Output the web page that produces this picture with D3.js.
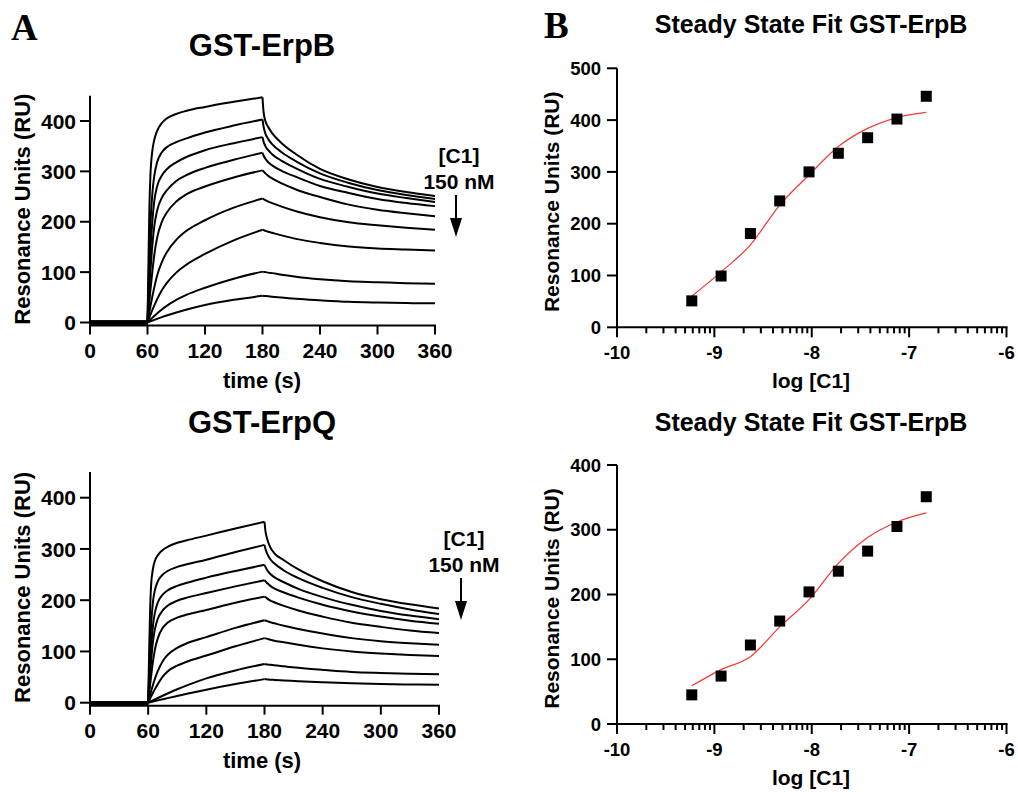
<!DOCTYPE html>
<html lang="en">
<head>
<meta charset="UTF-8">
<title>C1 binding - SPR</title>
<script src="https://cdn.jsdelivr.net/npm/d3@7"></script>
<style>
  body { margin: 0; background: #fff; }
  text { font-family: "Liberation Sans", Arial, sans-serif; font-weight: bold; fill: #000; }
  .letter { font-family: "Liberation Serif", "Times New Roman", serif; font-size: 37px; }
</style>
</head>
<body>
<svg width="1018" height="792"></svg>
<script>
// ---- data ----
const assocTimes = [60, 61, 62, 63, 65, 67, 70, 75, 80, 90, 100, 120, 150, 180];
const dissocTimes = [180, 181, 183, 186, 190, 200, 215, 240, 270, 300, 330, 360];

// GST-ErpB sensorgrams, 150 nM down to 0.59 nM
const erpbAssoc = [
  [0, 120, 230, 290, 340, 362, 380, 396, 405, 414, 420, 428, 438, 447],
  [0, 70, 135, 190, 255, 290, 318, 338, 348, 358, 365, 377, 391, 403],
  [0, 50, 97, 140, 200, 240, 270, 292, 304, 318, 328, 342, 356, 368],
  [0, 35, 68, 100, 152, 190, 222, 248, 262, 281, 292, 307, 323, 337],
  [0, 22, 43, 63, 100, 133, 168, 200, 218, 240, 254, 270, 288, 302],
  [0, 11, 21.5, 31.5, 51, 69, 93, 120, 139, 164, 181, 203, 228, 246],
  [0, 5, 10, 15, 24.5, 33.5, 46, 64, 78, 99, 114, 136, 163, 184],
  [0, 1.9, 3.8, 5.6, 9.2, 12.7, 17.8, 25.8, 33, 45, 54.5, 69, 87, 101],
  [0, 0.75, 1.5, 2.25, 3.7, 5.1, 7.2, 10.6, 13.8, 19.8, 25.2, 34.6, 45, 53]
];
const erpbDissoc = [
  [447, 420, 400, 388, 376, 356, 334, 305, 284, 269, 259, 251],
  [403, 390, 375, 364, 354, 338, 320, 296, 277, 263, 253, 245],
  [368, 360, 350, 342, 334, 321, 306, 285, 269, 256, 247, 239],
  [337, 332, 325, 318, 312, 301, 289, 271, 257, 245, 237, 231],
  [302, 300, 296, 291, 286, 276, 264, 249, 234, 224, 217, 211],
  [246, 245, 243, 240, 237, 230, 221, 209, 199, 193, 188, 184],
  [184, 183.5, 182, 180, 178, 173, 166, 158, 151, 147, 145, 143],
  [101, 100.5, 100, 99, 98, 95, 91, 86, 82, 80, 78, 77],
  [53, 52.8, 52.5, 52, 51, 49.5, 47, 44, 41, 39.5, 38.5, 38]
];

// GST-ErpQ sensorgrams
const erpqAssoc = [
  [0, 100, 180, 228, 262, 277, 288, 298, 304, 312, 317, 326, 340, 353],
  [0, 60, 110, 150, 198, 220, 237, 250, 257, 265, 270, 279, 294, 308],
  [0, 40, 77, 108, 152, 176, 196, 211, 219, 228, 234, 244, 257, 269],
  [0, 28, 55, 80, 120, 144, 164, 180, 189, 199, 205, 214, 227, 239],
  [0, 18, 35, 51, 81, 104, 126, 146, 156, 166, 172, 181, 195, 207],
  [0, 7.5, 15, 22, 35, 47, 62, 81, 93, 107, 116, 128, 146, 161],
  [0, 4, 8, 12, 19.5, 26.5, 36.5, 51, 61, 72.5, 80, 92, 110, 126],
  [0, 0.95, 1.9, 2.85, 4.7, 6.5, 9.2, 13.6, 17.9, 26.2, 33.8, 47.5, 63, 75.5],
  [0, 0.45, 0.9, 1.35, 2.25, 3.15, 4.5, 6.7, 8.9, 13.2, 17.4, 25.4, 36.3, 46]
];
const erpqDissoc = [
  [353, 335, 318, 303, 292, 278, 260, 237, 216, 202, 192, 184],
  [308, 300, 290, 280, 272, 258, 243, 224, 206, 193, 182, 173],
  [269, 265, 258, 251, 245, 235, 222, 206, 191, 179, 170, 163],
  [239, 237, 233, 228, 223, 215, 205, 191, 178, 168, 160, 154],
  [207, 206, 203, 199, 196, 189, 180, 168, 156, 148, 141, 136],
  [161, 160.5, 159, 157, 155, 150, 144, 135, 126, 120, 116, 113],
  [126, 125.5, 124.5, 123, 121, 118, 113, 106, 100, 96, 93, 91],
  [75.5, 75, 74.5, 74, 73, 71, 68, 64, 60, 58, 56.5, 55.5],
  [46, 45.8, 45.5, 45, 44.5, 43.5, 42, 40, 38, 36.5, 35.5, 35]
];

// steady state: log concentration of C1 (M)
const logConc = [-9.232, -8.931, -8.630, -8.329, -8.028, -7.727, -7.426, -7.125, -6.824];
const erpbSteady = [51, 99, 181, 244, 300, 336, 366, 402, 446];
const erpbFit = [60, 107, 159, 236, 294, 349, 384, 405, 415];
const erpqSteady = [45, 74, 122, 159, 204, 236, 267, 305, 351];
const erpqFit = [59, 84, 104, 150, 192, 248, 288, 312, 326];

const timeTicks = [0, 60, 120, 180, 240, 300, 360];
const ruTicksSensor = [0, 100, 200, 300, 400];
const logTicks = [-10, -9, -8, -7, -6];
const ruTicksFitB = [0, 100, 200, 300, 400, 500];
const ruTicksFitQ = [0, 100, 200, 300, 400];

const svg = d3.select("svg");

// ---- sensorgram panel ----
function sensorgram(opt) {
  const x = d3.scaleLinear().domain([0, 360]).range([90, opt.xRight]);
  const y = d3.scaleLinear().domain([0, 400]).range([opt.y0, opt.y400]);
  const axisY = opt.y0 + 3;
  const g = svg.append("g");

  g.append("text").attr("x", 262).attr("y", opt.titleY)
    .attr("text-anchor", "middle").style("font-size", "31px").text(opt.title);

  // y axis
  g.append("line").attr("x1", 90).attr("x2", 90)
    .attr("y1", y(450)).attr("y2", axisY + 1)
    .attr("stroke", "#000").attr("stroke-width", 2);
  ruTicksSensor.forEach(v => {
    g.append("line").attr("x1", 80).attr("x2", 90).attr("y1", y(v)).attr("y2", y(v))
      .attr("stroke", "#000").attr("stroke-width", 2);
    g.append("text").attr("x", 76).attr("y", y(v)).attr("dy", "0.36em")
      .attr("text-anchor", "end").style("font-size", "21px").text(v);
  });
  // x axis
  g.append("line").attr("x1", 89).attr("x2", x(360) + 1)
    .attr("y1", axisY).attr("y2", axisY)
    .attr("stroke", "#000").attr("stroke-width", 2);
  timeTicks.forEach(t => {
    g.append("line").attr("x1", x(t)).attr("x2", x(t)).attr("y1", axisY).attr("y2", axisY + 9)
      .attr("stroke", "#000").attr("stroke-width", 2);
    g.append("text").attr("x", x(t)).attr("y", axisY + 32)
      .attr("text-anchor", "middle").style("font-size", "21px").text(t);
  });
  g.append("text").attr("x", 262).attr("y", axisY + 62)
    .attr("text-anchor", "middle").style("font-size", "22px").text("time (s)");
  g.append("text")
    .attr("transform", `translate(30,${(y(450) + opt.y0) / 2}) rotate(-90)`)
    .attr("text-anchor", "middle").style("font-size", "22px").text("Resonance Units (RU)");

  // curves: baseline, association, dissociation
  const line = d3.line().x(d => x(d[0])).y(d => y(d[1])).curve(d3.curveMonotoneX);
  const curves = g.append("g").attr("fill", "none").attr("stroke", "#000")
    .attr("stroke-width", 2).attr("stroke-linejoin", "round");
  opt.assoc.forEach((a, i) => {
    curves.append("path").attr("d", line([[0, 0], [60, 0]])).attr("stroke-width", 3.5);
    curves.append("path").attr("d", line(assocTimes.map((t, j) => [t, a[j]])));
    curves.append("path").attr("d", line(dissocTimes.map((t, j) => [t, opt.dissoc[i][j]])));
  });

  // concentration arrow
  g.append("text").attr("x", opt.arrowX + 3).attr("y", opt.labelY)
    .attr("text-anchor", "middle").style("font-size", "21px").text("[C1]");
  g.append("text").attr("x", opt.arrowX + 3).attr("y", opt.labelY + 26)
    .attr("text-anchor", "middle").style("font-size", "21px").text("150 nM");
  g.append("line").attr("x1", opt.arrowX).attr("x2", opt.arrowX)
    .attr("y1", opt.labelY + 32).attr("y2", opt.labelY + 58)
    .attr("stroke", "#000").attr("stroke-width", 2);
  g.append("path")
    .attr("d", `M${opt.arrowX - 6},${opt.labelY + 55}L${opt.arrowX + 6},${opt.labelY + 55}L${opt.arrowX},${opt.labelY + 74}Z`)
    .attr("fill", "#000");
}

// ---- steady state fit panel ----
function steadyFit(opt) {
  const x = d3.scaleLinear().domain([-10, -6]).range([617, 1006.5]);
  const y = d3.scaleLinear().domain([0, opt.max]).range([opt.y0, opt.yTop]);
  const g = svg.append("g");

  g.append("text").attr("x", 811).attr("y", opt.titleY)
    .attr("text-anchor", "middle").style("font-size", "25px").text(opt.title);

  g.append("line").attr("x1", 617).attr("x2", 617).attr("y1", opt.yTop).attr("y2", opt.y0 + 1)
    .attr("stroke", "#000").attr("stroke-width", 2);
  opt.ticks.forEach(v => {
    g.append("line").attr("x1", 607).attr("x2", 617).attr("y1", y(v)).attr("y2", y(v))
      .attr("stroke", "#000").attr("stroke-width", 2);
    g.append("text").attr("x", 601).attr("y", y(v)).attr("dy", "0.36em")
      .attr("text-anchor", "end").style("font-size", "18.5px").text(v);
  });
  g.append("line").attr("x1", 616).attr("x2", 1007.5).attr("y1", opt.y0).attr("y2", opt.y0)
    .attr("stroke", "#000").attr("stroke-width", 2);
  logTicks.forEach(v => {
    g.append("line").attr("x1", x(v)).attr("x2", x(v)).attr("y1", opt.y0).attr("y2", opt.y0 + 10)
      .attr("stroke", "#000").attr("stroke-width", 2);
    g.append("text").attr("x", x(v)).attr("y", opt.y0 + 32)
      .attr("text-anchor", "middle").style("font-size", "18.5px").text(v);
  });
  // log minor ticks
  logTicks.slice(0, -1).forEach(v => {
    d3.range(2, 10).forEach(k => {
      const xm = x(v + Math.log10(k));
      g.append("line").attr("x1", xm).attr("x2", xm).attr("y1", opt.y0).attr("y2", opt.y0 + 6)
        .attr("stroke", "#000").attr("stroke-width", 2);
    });
  });
  g.append("text").attr("x", 811).attr("y", opt.y0 + 61)
    .attr("text-anchor", "middle").style("font-size", "21px").text("log [C1]");
  g.append("text")
    .attr("transform", `translate(559,${(opt.y0 + opt.yTop) / 2 + 4}) rotate(-90)`)
    .attr("text-anchor", "middle").style("font-size", "21px").text("Resonance Units (RU)");

  const line = d3.line().x((d, i) => x(logConc[i])).y(d => y(d)).curve(d3.curveMonotoneX);
  g.append("path").attr("d", line(opt.fit)).attr("fill", "none")
    .attr("stroke", "#f03c3c").attr("stroke-width", 1.3);

  g.selectAll("rect.pt").data(opt.points).enter().append("rect")
    .attr("x", (d, i) => x(logConc[i]) - 5.5).attr("y", d => y(d) - 5.5)
    .attr("width", 11).attr("height", 11).attr("fill", "#000");
}

sensorgram({ title: "GST-ErpB", titleY: 56, xRight: 435, y0: 322.5, y400: 121,
  assoc: erpbAssoc, dissoc: erpbDissoc, arrowX: 456, labelY: 163 });
sensorgram({ title: "GST-ErpQ", titleY: 433, xRight: 439, y0: 702.7, y400: 497.7,
  assoc: erpqAssoc, dissoc: erpqDissoc, arrowX: 461, labelY: 546 });

steadyFit({ title: "Steady State Fit GST-ErpB", titleY: 33, max: 500, y0: 327.3, yTop: 68.3,
  ticks: ruTicksFitB, points: erpbSteady, fit: erpbFit });
steadyFit({ title: "Steady State Fit GST-ErpB", titleY: 431, max: 400, y0: 724, yTop: 465,
  ticks: ruTicksFitQ, points: erpqSteady, fit: erpqFit });

svg.append("text").attr("class", "letter").attr("x", 11).attr("y", 40).text("A");
svg.append("text").attr("class", "letter").attr("x", 544).attr("y", 38).text("B");
</script>
</body>
</html>
